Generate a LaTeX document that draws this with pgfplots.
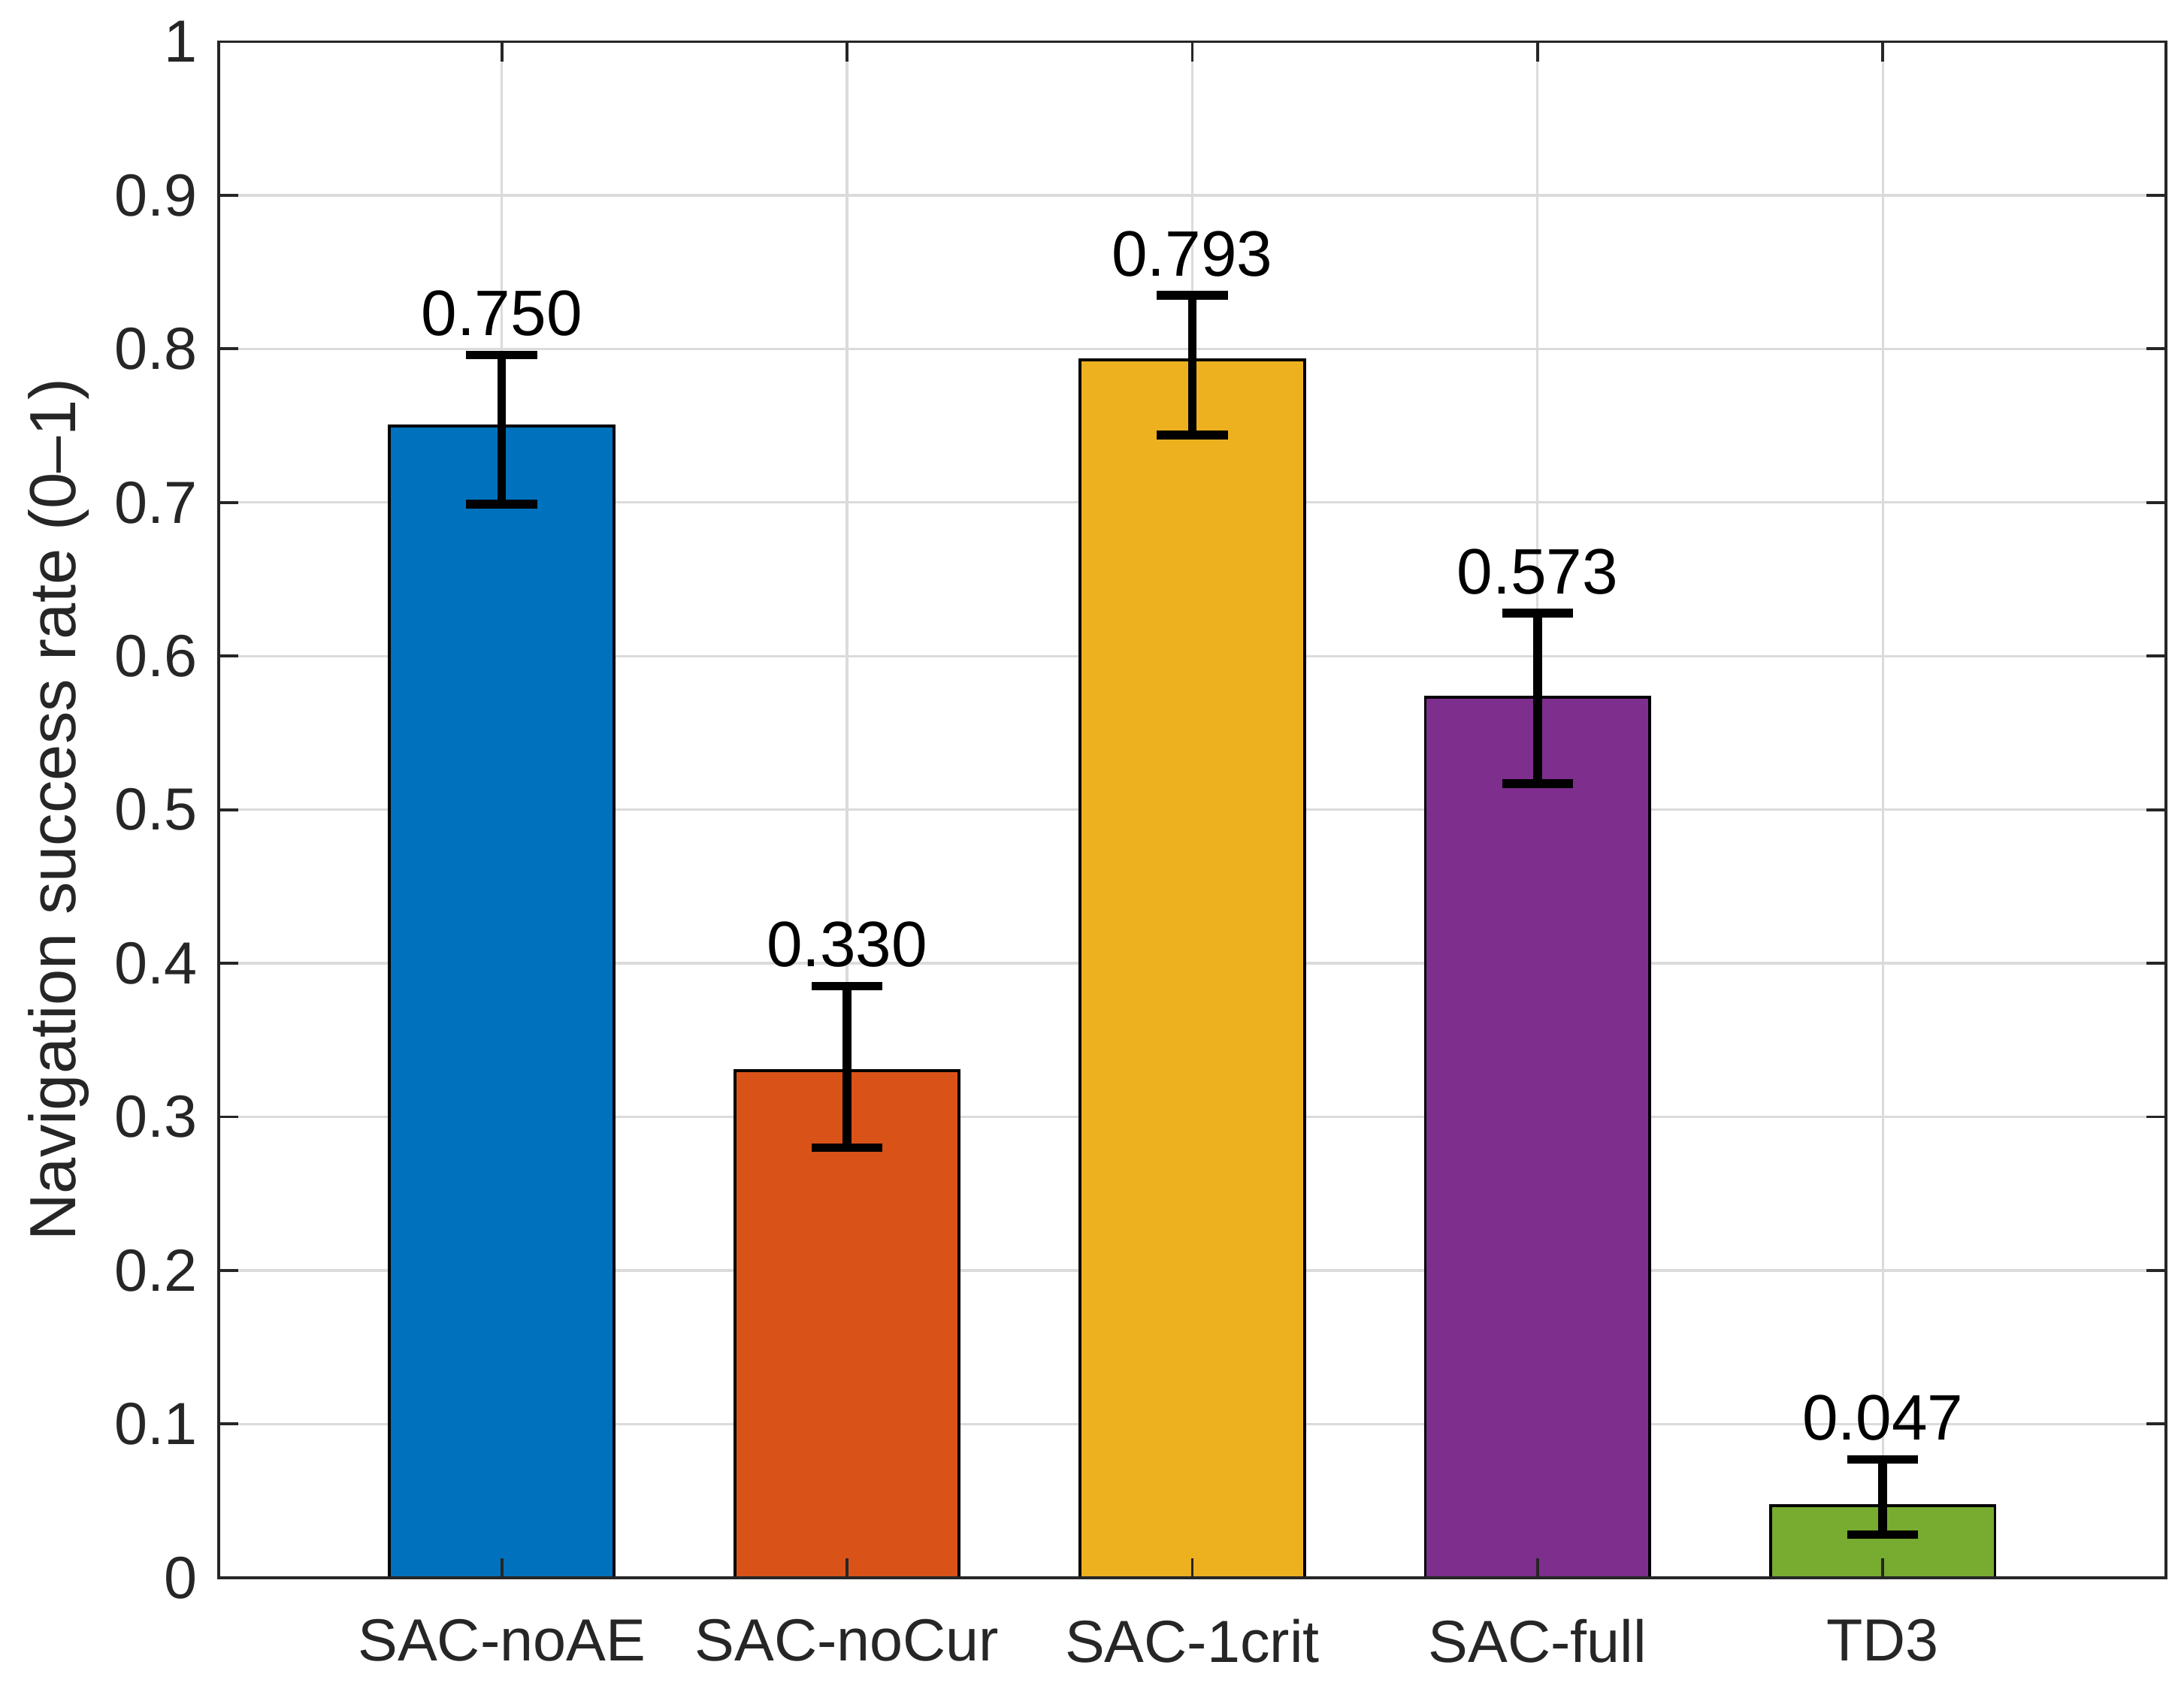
\documentclass[border=0pt]{standalone}
\usepackage{fontspec}
\setmainfont{Liberation Sans}
\usepackage{pgfplots}
\pgfplotsset{compat=1.18}
\definecolor{c1}{rgb}{0,0.447,0.741}
\definecolor{c2}{rgb}{0.85,0.325,0.098}
\definecolor{c3}{rgb}{0.929,0.694,0.125}
\definecolor{c4}{rgb}{0.494,0.184,0.556}
\definecolor{c5}{rgb}{0.466,0.674,0.188}
\definecolor{axgray}{rgb}{0.15,0.15,0.15}
\definecolor{gridgray}{rgb}{0.86,0.86,0.86}
\begin{document}
\begin{tikzpicture}
\begin{axis}[
  name=ax,
  set layers, axis on top,
  scale only axis,
  width=14.265cm, height=11.255cm,
  xmin=-0.82, xmax=4.82, ymin=0, ymax=1,
  xtick={0,1,2,3,4},
  xticklabels={SAC-noAE,SAC-noCur,SAC-1crit,SAC-full,TD3},
  ytick={0,0.1,0.2,0.3,0.4,0.5,0.6,0.7,0.8,0.9,1},
  yticklabels={0,0.1,0.2,0.3,0.4,0.5,0.6,0.7,0.8,0.9,1},
  grid=major,
  major grid style={gridgray, line width=0.5pt, on layer=axis background},
  tick align=inside, tick pos=both,
  major tick length=0.143cm,
  axis line style={axgray, line width=0.6pt},
  every tick/.style={axgray, line width=0.6pt},
  ticklabel style={font=\fontsize{12.4}{14}\selectfont, text=axgray},
  xticklabel style={yshift=-0.18cm},
  yticklabel style={xshift=-0.03cm},
  /pgf/number format/assume math mode=true,
  ylabel={Navigation success rate (0–1)},
  ylabel style={font=\fontsize{13.6}{16}\selectfont, text=axgray, at={(axis description cs:-0.082,0.5)}, anchor=center},
  error bars/error bar style={line width=1.8pt, black},
  error bars/error mark options={rotate=90, mark size=0.26cm, line width=1.8pt, black},
]
\addplot[ybar, bar width=0.65, bar shift=0pt, fill=c1, draw=black, line width=0.6pt,
  error bars/.cd, y dir=both, y explicit]
  coordinates {(0,0.750) += (0,0.046) -= (0,0.051)};
\addplot[ybar, bar width=0.65, bar shift=0pt, fill=c2, draw=black, line width=0.6pt,
  error bars/.cd, y dir=both, y explicit]
  coordinates {(1,0.330) += (0,0.055) -= (0,0.050)};
\addplot[ybar, bar width=0.65, bar shift=0pt, fill=c3, draw=black, line width=0.6pt,
  error bars/.cd, y dir=both, y explicit]
  coordinates {(2,0.793) += (0,0.042) -= (0,0.049)};
\addplot[ybar, bar width=0.65, bar shift=0pt, fill=c4, draw=black, line width=0.6pt,
  error bars/.cd, y dir=both, y explicit]
  coordinates {(3,0.573) += (0,0.055) -= (0,0.056)};
\addplot[ybar, bar width=0.65, bar shift=0pt, fill=c5, draw=black, line width=0.6pt,
  error bars/.cd, y dir=both, y explicit]
  coordinates {(4,0.047) += (0,0.030) -= (0,0.019)};
\addplot[only marks, mark=none, nodes near coords, point meta=explicit symbolic,
  nodes near coords style={anchor=base, font=\fontsize{13.4}{16}\selectfont, text=black, inner sep=0pt}]
  coordinates {(0,0.8086)[0.750] (1,0.3976)[0.330] (2,0.8476)[0.793] (3,0.6406)[0.573] (4,0.0896)[0.047]};
\end{axis}
\pgfresetboundingbox
\path[use as bounding box] ([xshift=-1.602cm,yshift=-0.816cm]ax.south west) rectangle ([xshift=0.133cm,yshift=0.306cm]ax.north east);
\end{tikzpicture}
\end{document}
